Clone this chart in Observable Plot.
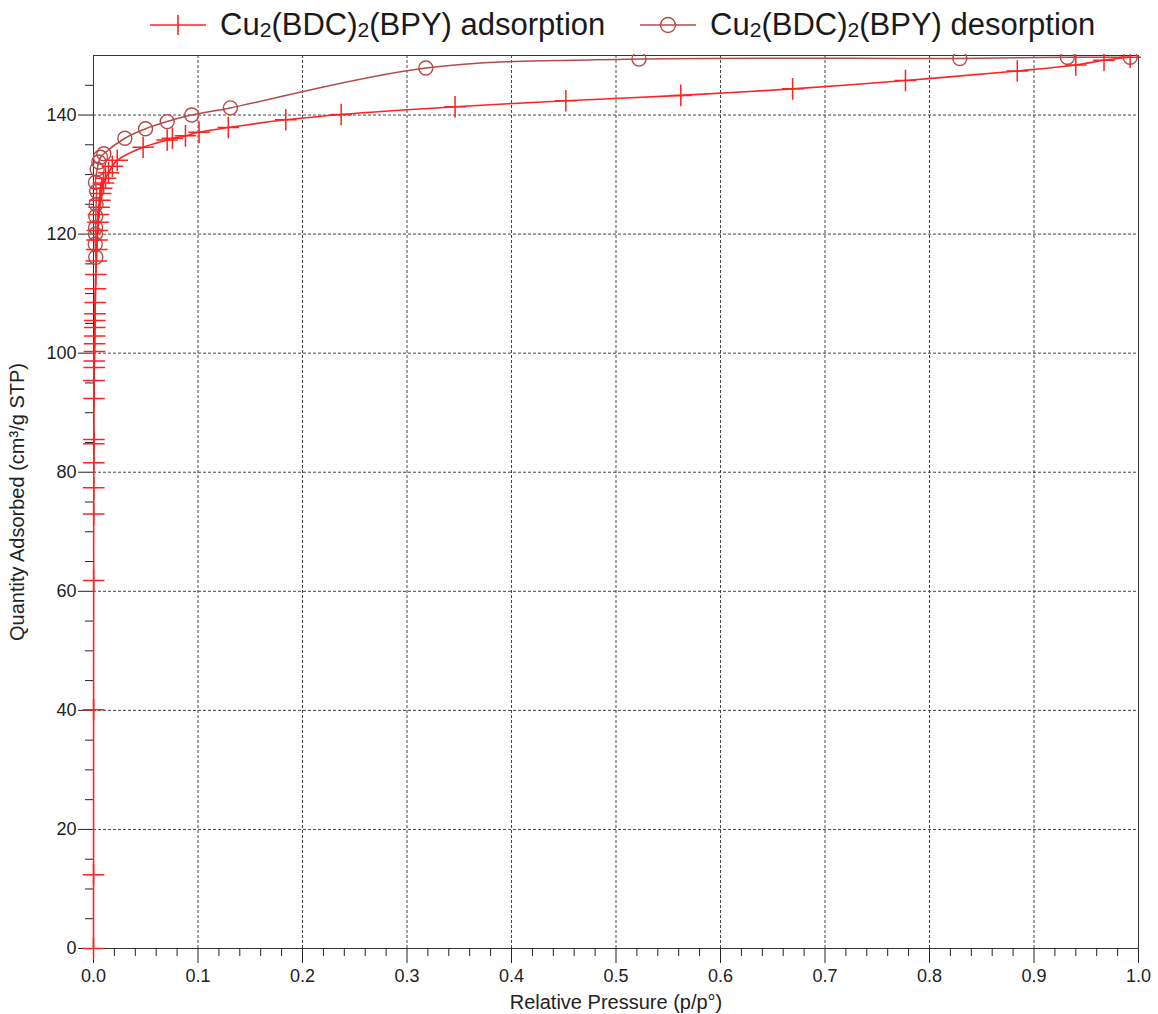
<!DOCTYPE html>
<html>
<head>
<meta charset="utf-8">
<script src="https://cdn.jsdelivr.net/npm/d3@7"></script>
<script src="https://cdn.jsdelivr.net/npm/@observablehq/plot@0.6"></script>
<style>
  body { margin: 0; background: #fff; font-family: "Liberation Sans", Arial, sans-serif; }
  #legend { position: relative; width: 1158px; height: 54px; }
  #legend .item { position: absolute; top: 0; height: 50px; display: flex; align-items: center; }
  #legend .label { font-size: 31px; color: #1a1a1a; white-space: nowrap; margin-left: 12px; }
  #legend sub { font-size: 0.68em; vertical-align: -0.08em; }
</style>
</head>
<body>
<div id="legend"></div>
<div id="chart"></div>
<script>
// N2 isotherm of Cu2(BDC)2(BPY): relative pressure p/p° vs quantity adsorbed (cm³/g STP)
const adsorptionP = [0.0000, 0.00005, 0.0001, 0.00015, 0.0002, 0.00025, 0.0003, 0.00035, 0.0004, 0.0005,
  0.0006, 0.0007, 0.0008, 0.0009, 0.0010, 0.0011, 0.0012, 0.0013, 0.0014, 0.0016,
  0.0019, 0.0022, 0.0026, 0.0030, 0.0034, 0.0038, 0.0043, 0.0048, 0.0054, 0.0061,
  0.0069, 0.0078, 0.0096, 0.0115, 0.0144, 0.0180, 0.0227, 0.0475, 0.0705, 0.0755,
  0.088, 0.101, 0.129, 0.184, 0.237, 0.346, 0.452, 0.562, 0.669, 0.777,
  0.884, 0.940, 0.967, 0.992];
const adsorptionQ = [0.0, 12.4, 40.1, 61.8, 73.0, 77.4, 81.6, 84.8, 85.5, 92.4,
  95.4, 97.6, 98.7, 100.3, 101.6, 102.9, 104.3, 105.5, 106.6, 108.5,
  110.8, 113.2, 115.5, 117.4, 119.0, 120.6, 122.0, 123.3, 124.5, 125.7,
  126.8, 127.7, 128.6, 129.4, 130.3, 131.4, 132.4, 134.6, 135.8, 136.1,
  136.5, 137.1, 137.9, 139.2, 140.1, 141.4, 142.4, 143.3, 144.4, 145.8,
  147.4, 148.4, 149.2, 149.7];

const desorptionP = [0.992, 0.932, 0.829, 0.522, 0.318, 0.131, 0.094, 0.0705, 0.0498, 0.030,
  0.0099, 0.0067, 0.0051, 0.0035, 0.0019, 0.0030, 0.0025, 0.0022, 0.0020, 0.0019,
  0.0017, 0.0022];
const desorptionQ = [149.7, 149.7, 149.5, 149.4, 147.9, 141.2, 140.0, 138.9, 137.7, 136.1,
  133.5, 132.9, 132.1, 130.9, 128.7, 127.2, 125.0, 123.0, 121.1, 120.0,
  118.3, 116.1];

const xMajorTicks = [0, 0.1, 0.2, 0.3, 0.4, 0.5, 0.6, 0.7, 0.8, 0.9, 1.0];
const xMinorTicks = d3.range(0, 50).map(i => i * 0.02 + 0.02).filter(v => Math.round(v * 50) % 5 !== 0);
const yMajorTicks = [0, 20, 40, 60, 80, 100, 120, 140];
const yMinorTicks = d3.range(1, 30).map(i => i * 5).filter(v => v % 20 !== 0);

const seriesNames = ["adsorption", "desorption"];
const formulaHtml = "Cu<sub>2</sub>(BDC)<sub>2</sub>(BPY)";
const colors = { adsorption: "#ff2222", desorption: "#b54a4a" };

const adsorption = adsorptionP.map((p, i) => ({ p, q: adsorptionQ[i] }));
const desorption = desorptionP.map((p, i) => ({ p, q: desorptionQ[i] }));

// Legend row above the chart
const legend = document.getElementById("legend");
const legendLeft = [148, 638];
seriesNames.forEach((name, i) => {
  const item = document.createElement("div");
  item.className = "item";
  item.style.left = legendLeft[i] + "px";
  const sym = name === "adsorption"
    ? `<line x1="2" y1="12" x2="58" y2="12" stroke="${colors[name]}" stroke-width="1.6"/>
       <line x1="30" y1="2" x2="30" y2="22" stroke="${colors[name]}" stroke-width="1.6"/>`
    : `<line x1="2" y1="12" x2="58" y2="12" stroke="${colors[name]}" stroke-width="1.6"/>
       <circle cx="30" cy="12" r="7.5" fill="none" stroke="${colors[name]}" stroke-width="1.4"/>`;
  item.innerHTML = `<svg width="60" height="24">${sym}</svg><span class="label">${formulaHtml} ${name}</span>`;
  legend.appendChild(item);
});

const chart = Plot.plot({
  width: 1158,
  height: 960,
  marginTop: 1,
  marginRight: 20,
  marginBottom: 66,
  marginLeft: 93,
  style: { fontFamily: "'Liberation Sans', Arial, sans-serif", fontSize: "18px", color: "#222", background: "#fff", overflow: "hidden" },
  x: { domain: [0, 1] },
  y: { domain: [0, 150] },
  marks: [
    Plot.gridX(xMajorTicks.slice(1, -1), { stroke: "#444", strokeOpacity: 1, strokeDasharray: "3,2" }),
    Plot.gridY(yMajorTicks.slice(1), { stroke: "#444", strokeOpacity: 1, strokeDasharray: "3,2" }),
    Plot.axisX(xMinorTicks, { tickSize: 8, tickFormat: () => "", label: null, stroke: "#222" }),
    Plot.axisX(xMajorTicks, {
      tickSize: 15, tickPadding: 6, tickFormat: d3.format(".1f"), stroke: "#222",
      label: "Relative Pressure (p/p°)", labelAnchor: "center", labelOffset: 60, labelArrow: "none",
      fontSize: 18
    }),
    Plot.axisY(yMinorTicks, { tickSize: 8, tickFormat: () => "", label: null, stroke: "#222" }),
    Plot.axisY(yMajorTicks, {
      tickSize: 15, tickPadding: 2, stroke: "#222",
      label: "Quantity Adsorbed (cm³/g STP)", labelAnchor: "center", labelOffset: 84, labelArrow: "none",
      fontSize: 18
    }),
    Plot.frame({ stroke: "#333" }),
    Plot.line(desorption, { x: "p", y: "q", stroke: colors.desorption, strokeWidth: 1.5, curve: "catmull-rom" }),
    Plot.dot(desorption, { x: "p", y: "q", r: 7, stroke: colors.desorption, strokeWidth: 1.4, fill: "none" }),
    Plot.line(adsorption, { x: "p", y: "q", stroke: colors.adsorption, strokeWidth: 1.6, curve: "catmull-rom" }),
    Plot.dot(adsorption, { x: "p", y: "q", symbol: "plus", r: 7, stroke: colors.adsorption, strokeWidth: 1.5 })
  ]
});
// Axis titles are a touch larger than the tick labels
chart.querySelectorAll("g[aria-label='x-axis label'] text, g[aria-label='y-axis label'] text")
  .forEach(t => t.setAttribute("font-size", "20"));
document.getElementById("chart").appendChild(chart);
</script>
</body>
</html>
